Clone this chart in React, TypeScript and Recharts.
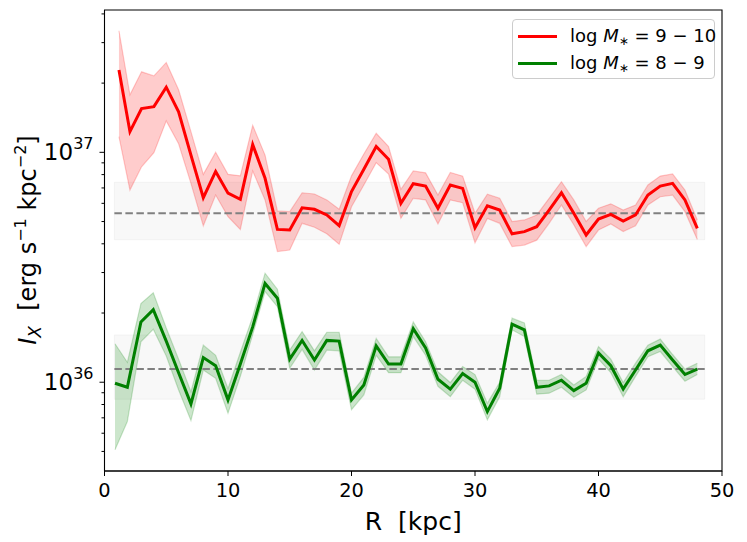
import {
  ComposedChart,
  Line,
  Area,
  XAxis,
  YAxis,
  ReferenceArea,
  ReferenceLine,
  Legend,
} from "recharts";

const UNIT = 1e36;

const RED_X = [
  1.17, 2.06, 3, 4, 5, 6, 7, 8, 9, 10, 11, 12, 13, 14, 15, 16, 17, 18, 19, 20, 21, 22, 23, 24,
  25, 26, 27, 28, 29, 30, 31, 32, 33, 34, 35, 36, 37, 38, 39, 40, 41, 42, 43, 44, 45, 46, 47, 48,
];
const RED_MEAN = [
  22.8, 12.3, 15.5, 15.8, 19.2, 15.0, 9.73, 6.35, 8.26, 6.64, 6.25, 10.8, 7.71, 4.62, 4.59, 5.74,
  5.65, 5.34, 4.8, 6.75, 8.44, 10.6, 9.33, 6.0, 7.3, 7.13, 5.71, 7.21, 6.97, 4.7, 5.85, 5.61, 4.42,
  4.52, 4.75, 5.61, 6.67, 5.43, 4.37, 5.13, 5.37, 5.02, 5.34, 6.52, 7.13, 7.33, 6.21, 4.67,
];
const RED_LO = [
  11.7, 6.85, 8.65, 9.96, 13.7, 10.9, 7.33, 4.79, 6.52, 5.25, 4.62, 8.3, 6.21, 3.7, 3.76, 4.91,
  4.72, 4.42, 3.98, 5.8, 7.21, 9.02, 8.05, 5.16, 6.31, 6.21, 4.88, 6.21, 6.04, 4.04, 5.16, 4.91,
  3.89, 3.95, 4.15, 4.91, 5.9, 4.84, 3.89, 4.59, 4.88, 4.52, 4.79, 5.9, 6.41, 6.52, 5.52, 4.18,
];
const RED_HI = [
  33.8, 17.8, 22.4, 21.5, 24.6, 18.7, 12.3, 8.02, 10.0, 8.02, 7.9, 13.1, 9.73, 5.56, 5.52, 6.67,
  6.59, 6.21, 5.65, 7.9, 9.84, 12.1, 10.6, 6.9, 8.3, 8.14, 6.52, 8.18, 7.88, 5.43, 6.57, 6.31, 5.0,
  5.08, 5.34, 6.31, 7.45, 6.21, 5.0, 5.71, 5.97, 5.61, 5.9, 7.21, 7.88, 8.05, 6.85, 5.08,
];

const GREEN_X = [
  0.85, 1.85, 2.95, 3.95, 5, 6, 7, 8, 9, 10, 11, 12, 13, 14, 15, 16, 17, 18, 19, 20, 21, 22, 23, 24,
  25, 26, 27, 28, 29, 30, 31, 32, 33, 34, 35, 36, 37, 38, 39, 40, 41, 42, 43, 44, 45, 46, 47, 48,
];
const GREEN_MEAN = [
  0.99, 0.951, 1.83, 2.07, 1.51, 1.1, 0.805, 1.28, 1.18, 0.838, 1.2, 1.74, 2.69, 2.32, 1.26, 1.52,
  1.25, 1.52, 1.51, 0.838, 0.973, 1.44, 1.2, 1.2, 1.71, 1.41, 1.03, 0.933, 1.09, 1.0, 0.745, 0.942,
  1.79, 1.69, 0.951, 0.964, 1.02, 0.919, 0.99, 1.34, 1.18, 0.933, 1.13, 1.37, 1.45, 1.25, 1.08, 1.14,
];
const GREEN_LO = [
  0.508, 0.675, 1.5, 1.7, 1.3, 0.925, 0.681, 1.13, 1.04, 0.733, 1.06, 1.61, 2.48, 2.13, 1.15, 1.39,
  1.13, 1.38, 1.37, 0.759, 0.881, 1.31, 1.1, 1.1, 1.58, 1.31, 0.96, 0.865, 1.02, 0.933, 0.686,
  0.865, 1.69, 1.58, 0.887, 0.896, 0.951, 0.86, 0.926, 1.26, 1.1, 0.865, 1.06, 1.29, 1.36, 1.17,
  1.01, 1.08,
];
const GREEN_HI = [
  1.47, 1.22, 2.2, 2.45, 1.72, 1.26, 0.91, 1.45, 1.31, 0.94, 1.35, 1.93, 2.98, 2.54, 1.38, 1.66,
  1.37, 1.65, 1.65, 0.896, 1.05, 1.55, 1.29, 1.29, 1.83, 1.5, 1.11, 0.997, 1.17, 1.08, 0.811, 1.0,
  1.9, 1.81, 1.02, 1.02, 1.08, 0.973, 1.06, 1.43, 1.26, 0.997, 1.21, 1.45, 1.54, 1.32, 1.14, 1.21,
];

// reference levels: [mean, low, high] in units of 1e36
const RED_LEVEL = [5.43, 4.17, 7.41];
const GREEN_LEVEL = [1.142, 0.844, 1.606];
const LEVEL_X = [0.8, 48.6];

const X_DOMAIN = [0, 50];
const X_TICKS = [0, 10, 20, 30, 40, 50];
const Y_MAJOR = [1e36, 1e37];
const Y_TICKS = [
  5e35, 6e35, 7e35, 8e35, 9e35, 1e36, 2e36, 3e36, 4e36, 5e36, 6e36, 7e36, 8e36, 9e36, 1e37, 2e37,
  3e37, 4e37,
];
const Y_DOMAIN = [4.11e35, 4.16e37];

const FONT = "'DejaVu Sans', sans-serif";

const redData = RED_X.map((x, i) => ({
  x,
  y: RED_MEAN[i] * UNIT,
  band: [RED_LO[i] * UNIT, RED_HI[i] * UNIT],
}));
const greenData = GREEN_X.map((x, i) => ({
  x,
  y: GREEN_MEAN[i] * UNIT,
  band: [GREEN_LO[i] * UNIT, GREEN_HI[i] * UNIT],
}));

function YTick({ x, y, payload }: any) {
  const major = Y_MAJOR.includes(payload.value);
  return (
    <g>
      <line x1={x - (major ? 5 : 3)} x2={x} y1={y} y2={y} stroke="#000" strokeWidth={1} />
      {major && (
        <text x={x - 11} y={y + 8} textAnchor="end" fontFamily={FONT} fontSize={23} fill="#000">
          10
          <tspan dy={-11} fontSize={16}>
            {Math.round(Math.log10(payload.value))}
          </tspan>
        </text>
      )}
    </g>
  );
}

function XTick({ x, y, payload }: any) {
  return (
    <text x={x} y={y} dy="0.72em" textAnchor="middle" fontFamily={FONT} fontSize={19.4} fill="#000">
      {payload.value}
    </text>
  );
}

function LegendBox() {
  const rows = [
    { color: "#ff0000", range: "9 − 10" },
    { color: "#008000", range: "8 − 9" },
  ];
  return (
    <div
      style={{
        border: "1px solid #cccccc",
        borderRadius: 4,
        background: "rgba(255,255,255,0.8)",
        padding: "3px 8px 3px 5px",
        fontFamily: FONT,
        fontSize: 18,
        width: 203,
        height: 60,
        boxSizing: "border-box",
        whiteSpace: "nowrap",
      }}
    >
      {rows.map((r) => (
        <div key={r.range} style={{ display: "flex", alignItems: "center", height: 27 }}>
          <span style={{ width: 39, height: 3, background: r.color, marginRight: 13, flex: "none" }} />
          <span>
            log <i>M</i>
            <sub style={{ fontSize: 12, verticalAlign: "-3px" }}>∗</sub> = {r.range}
          </span>
        </div>
      ))}
    </div>
  );
}

export default function App() {
  return (
    <div style={{ position: "absolute", left: 0, top: 0 }}>
      <ComposedChart width={747} height={542} margin={{ top: 10, right: 25, bottom: 0, left: 0 }}>
        <XAxis
          type="number"
          dataKey="x"
          domain={X_DOMAIN}
          ticks={X_TICKS}
          allowDataOverflow
          height={71}
          tickSize={5}
          tickMargin={7}
          tick={<XTick />}
          stroke="#000"
          label={{
            value: "R\u00a0\u00a0[kpc]",
            position: "insideBottom",
            offset: 12,
            fontFamily: FONT,
            fontSize: 25,
            fill: "#000",
          }}
        />
        <YAxis
          type="number"
          scale="log"
          domain={Y_DOMAIN}
          ticks={Y_TICKS}
          allowDataOverflow
          width={104.5}
          tickSize={0}
          tickMargin={0}
          tick={<YTick />}
          stroke="#000"
          interval={0}
          label={{
            content: () => (
              <text
                x={0}
                y={0}
                transform="translate(36,240) rotate(-90)"
                textAnchor="middle"
                fontFamily={FONT}
                fontSize={24}
                fill="#000"
              >
                <tspan fontStyle="italic">I</tspan>
                <tspan fontSize={17} fontStyle="italic" dy={5}>X</tspan>
                <tspan dy={-5}>{"\u00a0\u00a0[erg s"}</tspan>
                <tspan fontSize={16} dy={-10}>−1</tspan>
                <tspan dy={10}>{"\u00a0kpc"}</tspan>
                <tspan fontSize={16} dy={-10}>−2</tspan>
                <tspan dy={10}>]</tspan>
              </text>
            ),
          }}
        />

        <ReferenceArea
          x1={LEVEL_X[0]}
          x2={LEVEL_X[1]}
          y1={RED_LEVEL[1] * UNIT}
          y2={RED_LEVEL[2] * UNIT}
          fill="#d3d3d3"
          fillOpacity={0.15}
          stroke="#d3d3d3"
          strokeOpacity={0.2}
        />
        <ReferenceArea
          x1={LEVEL_X[0]}
          x2={LEVEL_X[1]}
          y1={GREEN_LEVEL[1] * UNIT}
          y2={GREEN_LEVEL[2] * UNIT}
          fill="#d3d3d3"
          fillOpacity={0.15}
          stroke="#d3d3d3"
          strokeOpacity={0.2}
        />

        <Area
          data={redData}
          dataKey="band"
          type="linear"
          fill="#ff0000"
          fillOpacity={0.2}
          stroke="#ff0000"
          strokeOpacity={0.2}
          strokeWidth={1.2}
          isAnimationActive={false}
          legendType="none"
        />
        <Area
          data={greenData}
          dataKey="band"
          type="linear"
          fill="#008000"
          fillOpacity={0.2}
          stroke="#008000"
          strokeOpacity={0.2}
          strokeWidth={1.2}
          isAnimationActive={false}
          legendType="none"
        />

        <ReferenceLine
          segment={[
            { x: LEVEL_X[0], y: RED_LEVEL[0] * UNIT },
            { x: LEVEL_X[1], y: RED_LEVEL[0] * UNIT },
          ]}
          stroke="#808080"
          strokeWidth={2}
          strokeDasharray="7.5 3.5"
        />
        <ReferenceLine
          segment={[
            { x: LEVEL_X[0], y: GREEN_LEVEL[0] * UNIT },
            { x: LEVEL_X[1], y: GREEN_LEVEL[0] * UNIT },
          ]}
          stroke="#808080"
          strokeWidth={2}
          strokeDasharray="7.5 3.5"
        />

        <Line
          data={redData}
          dataKey="y"
          type="linear"
          stroke="#ff0000"
          strokeWidth={3}
          dot={false}
          activeDot={false}
          isAnimationActive={false}
        />
        <Line
          data={greenData}
          dataKey="y"
          type="linear"
          stroke="#008000"
          strokeWidth={3}
          dot={false}
          activeDot={false}
          isAnimationActive={false}
        />

        {/* axes frame */}
        <ReferenceArea
          x1={X_DOMAIN[0]}
          x2={X_DOMAIN[1]}
          y1={Y_DOMAIN[0]}
          y2={Y_DOMAIN[1]}
          fill="none"
          stroke="#000"
          strokeWidth={1.1}
        />

        <Legend
          layout="horizontal"
          verticalAlign="middle"
          content={() => <LegendBox />}
          wrapperStyle={{ position: "absolute", left: 512, top: 19, width: 203 }}
        />
      </ComposedChart>
    </div>
  );
}
